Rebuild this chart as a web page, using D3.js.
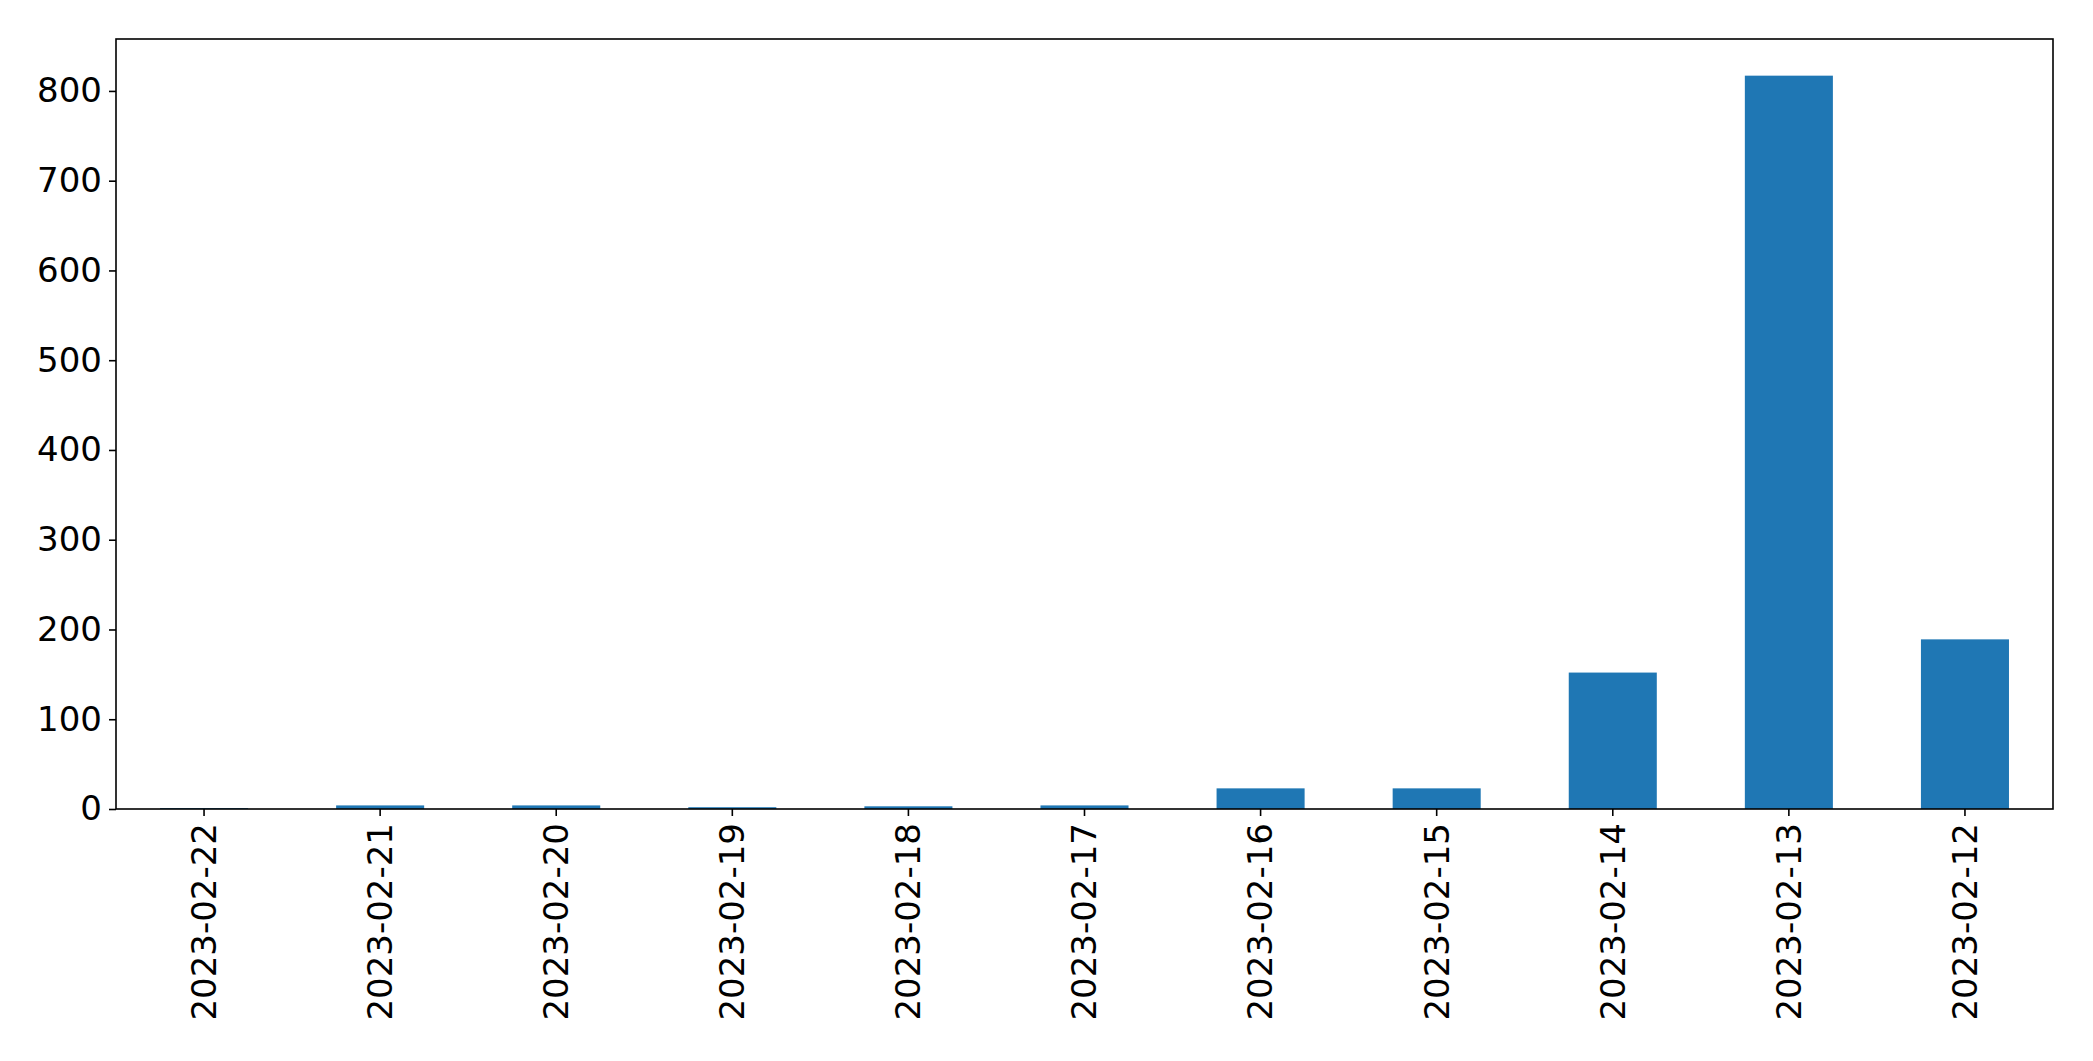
<!DOCTYPE html>
<html>
<head>
<meta charset="utf-8">
<script src="https://cdn.jsdelivr.net/npm/d3@7"></script>
<style>
  html, body { margin: 0; padding: 0; background: #fff; }
  svg { display: block; }
  text { font-family: "DejaVu Sans", sans-serif; fill: #000; }
</style>
</head>
<body>
<script>
const categories = ["2023-02-22","2023-02-21","2023-02-20","2023-02-19","2023-02-18","2023-02-17","2023-02-16","2023-02-15","2023-02-14","2023-02-13","2023-02-12"];
const values = [1, 4, 4, 2, 3, 4, 23, 23, 152, 817, 189];
const yTicks = [0, 100, 200, 300, 400, 500, 600, 700, 800];

const W = 2093, H = 1061;
const margin = {left: 116, right: 40, top: 39, bottom: 252};
const fontSize = 34;

const svg = d3.select("body").append("svg").attr("width", W).attr("height", H);

const x = d3.scaleBand().domain(categories)
  .range([margin.left, W - margin.right]).paddingInner(0.5).paddingOuter(0.25);
const y = d3.scaleLinear().domain([0, d3.max(values) * 1.05])
  .range([H - margin.bottom, margin.top]);

svg.append("g").selectAll("rect").data(categories).join("rect")
  .attr("x", d => x(d))
  .attr("width", x.bandwidth())
  .attr("y", (d, i) => y(values[i]))
  .attr("height", (d, i) => y(0) - y(values[i]))
  .attr("fill", "#1f77b4");

const xAxis = svg.append("g")
  .attr("transform", `translate(0,${H - margin.bottom})`)
  .call(d3.axisBottom(x).tickSize(7).tickPadding(7).tickSizeOuter(0));
xAxis.select(".domain").remove();
xAxis.selectAll(".tick line").attr("stroke", "#000").attr("stroke-width", 1.6);
xAxis.selectAll(".tick text")
  .attr("font-size", fontSize)
  .attr("font-family", "DejaVu Sans")
  .attr("text-anchor", "end")
  .attr("transform", "rotate(-90)")
  .attr("x", -14)
  .attr("y", 0)
  .attr("dy", "0.35em");

const yAxis = svg.append("g")
  .attr("transform", `translate(${margin.left},0)`)
  .call(d3.axisLeft(y).tickValues(yTicks).tickSize(7).tickPadding(7).tickSizeOuter(0));
yAxis.select(".domain").remove();
yAxis.selectAll(".tick line").attr("stroke", "#000").attr("stroke-width", 1.6);
yAxis.selectAll(".tick text").attr("font-size", fontSize).attr("font-family", "DejaVu Sans");

svg.append("rect")
  .attr("x", margin.left).attr("y", margin.top)
  .attr("width", W - margin.right - margin.left)
  .attr("height", H - margin.bottom - margin.top)
  .attr("fill", "none").attr("stroke", "#000").attr("stroke-width", 1.6);
</script>
</body>
</html>
